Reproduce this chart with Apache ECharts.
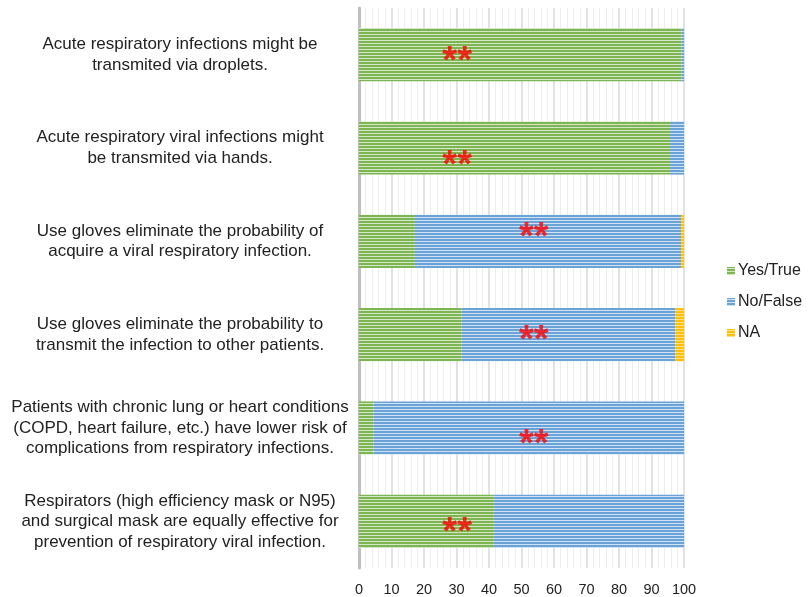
<!DOCTYPE html>
<html><head><meta charset="utf-8">
<script src="https://cdn.jsdelivr.net/npm/echarts@6/dist/echarts.min.js"></script>
<style>html,body{margin:0;padding:0;background:#fff}#c{width:809px;height:597px}</style>
</head><body><div id="c"></div>
<script>
const categories = [
  'Acute respiratory infections might be\ntransmited via droplets.',
  'Acute respiratory viral infections might\nbe transmited via hands.',
  'Use gloves eliminate the probability of\nacquire a viral respiratory infection.',
  'Use gloves eliminate the probability to\ntransmit the infection to other patients.',
  'Patients with chronic lung or heart conditions\n(COPD, heart failure, etc.) have lower risk of\ncomplications from respiratory infections.',
  'Respirators (high efficiency mask or N95)\nand surgical mask are equally effective for\nprevention of respiratory viral infection.'
];
const yesTrue = [99.3, 95.7, 17.2, 31.6, 4.4, 41.5];
const noFalse = [0.7, 4.3, 81.9, 65.8, 95.6, 58.5];
const na = [0, 0, 0.9, 2.6, 0, 0];
const starX = [30.2, 30.2, 53.8, 53.8, 53.8, 30.2];
const starText = ['**', '**', '**', '**', '**', '**'];
const xTicks = [0, 10, 20, 30, 40, 50, 60, 70, 80, 90, 100];

function stripe(dark, light) {
  const c = document.createElement('canvas');
  c.width = 4; c.height = 3;
  const g = c.getContext('2d');
  g.fillStyle = dark; g.fillRect(0, 0, 4, 3);
  g.fillStyle = light; g.fillRect(0, 1, 4, 1);
  return { image: c, repeat: 'repeat' };
}
const greenPat = stripe('#7cb552', '#d3e8c4');
const bluePat = stripe('#6aa3d8', '#cfe2f4');
const yellowPat = stripe('#ffc000', '#ffe08a');

const starOffsets = [[0, 8], [0, 19], [0, -3], [0, 7], [0, 18], [0, 12]];

const chart = echarts.init(document.getElementById('c'), null, { renderer: 'canvas' });
chart.setOption({
  animation: false,
  backgroundColor: '#fff',
  textStyle: { fontFamily: 'Liberation Sans, Arial, sans-serif' },
  grid: { left: 359, right: 125, top: 8, bottom: 27, containLabel: false },
  legend: {
    orient: 'vertical', left: 722, top: 258,
    icon: 'rect',
    itemWidth: 8, itemHeight: 8, itemGap: 15,
    textStyle: { fontSize: 16, color: '#222', padding: [0, 0, 0, -2] },
    data: ['Yes/True', 'No/False', 'NA']
  },
  xAxis: {
    type: 'value', min: 0, max: 100, interval: 10,
    axisLine: { show: false }, axisTick: { show: false },
    axisLabel: { fontSize: 14.5, color: '#222', margin: 14, formatter: v => xTicks.includes(v) ? String(v) : '' },
    splitLine: { show: true, lineStyle: { color: '#d9d9d9', width: 1.5 } },
    minorTick: { show: false, splitNumber: 5 },
    minorSplitLine: { show: true, lineStyle: { color: '#ededed', width: 1 } }
  },
  yAxis: {
    type: 'category', inverse: true, data: categories,
    axisLine: { show: true, lineStyle: { color: '#bfbfbf', width: 3 } },
    axisTick: { show: false },
    axisLabel: { fontSize: 17, color: '#222', align: 'center', margin: 179, lineHeight: 20.5 }
  },
  series: [
    { name: 'Yes/True', type: 'bar', stack: 's', data: yesTrue, barWidth: '57%', itemStyle: { color: greenPat } },
    { name: 'No/False', type: 'bar', stack: 's', data: noFalse, barWidth: '57%', itemStyle: { color: bluePat } },
    { name: 'NA', type: 'bar', stack: 's', data: na, barWidth: '57%', itemStyle: { color: yellowPat } },
    {
      name: 'stars', type: 'scatter', symbolSize: 0, z: 10,
      data: starX.map((x, i) => ({
        value: [x, i],
        label: { show: true, formatter: starText[i], offset: starOffsets[i] }
      })),
      label: { position: 'inside', color: '#ff0000', fontSize: 38, fontWeight: 'bold', fontFamily: 'Liberation Sans, Arial, sans-serif' }
    }
  ]
});
</script></body></html>
